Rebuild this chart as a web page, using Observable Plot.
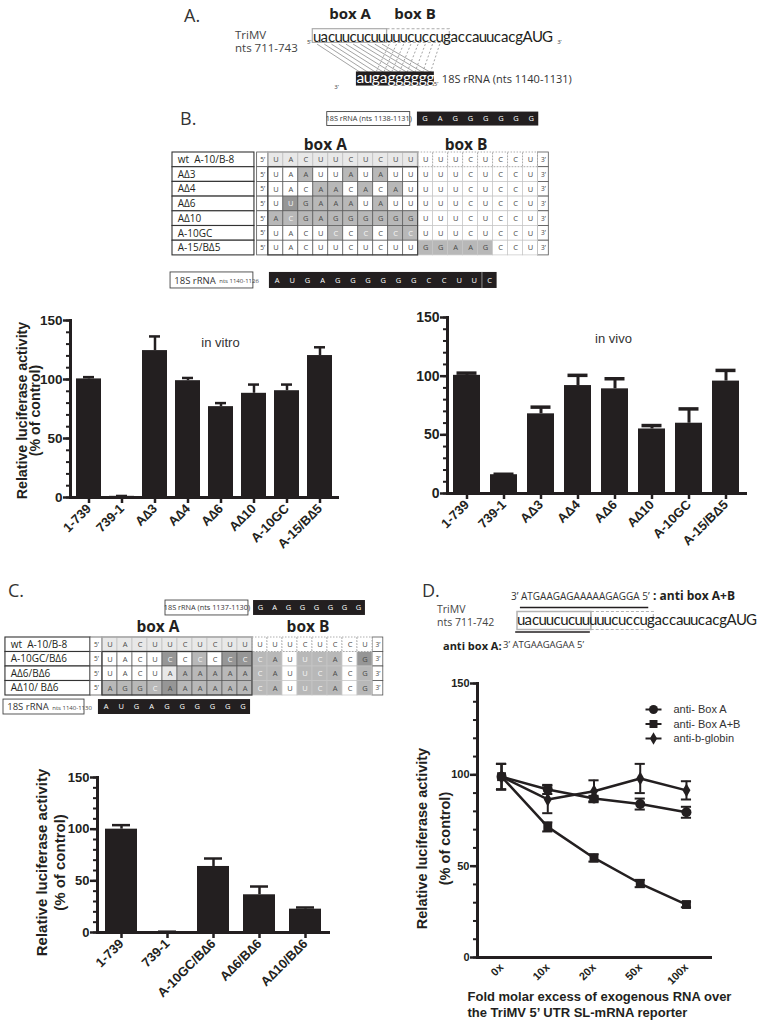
<!DOCTYPE html>
<html><head><meta charset="utf-8">
<script src="https://cdn.jsdelivr.net/npm/d3@7"></script>
<script src="https://cdn.jsdelivr.net/npm/@observablehq/plot@0.6"></script>
<style>
body{margin:0;background:#fff;}
#root{position:relative;width:760px;height:1020px;overflow:hidden;font-family:"Open Sans",sans-serif;color:#231f20;background:#fff;}
.abs{position:absolute;white-space:nowrap;line-height:1;}
svg{overflow:visible;}
</style></head><body><div id="root"></div>
<script>
// ---------------- DATA ----------------
const seqTriMV = "uacuucucuuuuucuccugaccauucacgAUG";
const rRNA_A = "augagggggg";

const vitroCats = ["1-739","739-1","A\u22063","A\u22064","A\u22066","A\u220610","A-10GC","A-15/B\u22065"];
const vitroVals = [100.5, 1, 124.5, 99, 77, 88.3, 90.5, 120.3];
const vitroErr  = [1.5, 0.3, 12, 2.3, 3, 7.4, 5.2, 7];

const vivoCats = ["1-739","739-1","A\u03943","A\u03944","A\u03946","A\u220610","A-10GC","A-15/B\u03945"];
const vivoVals = [100.7, 16, 67.9, 92, 89.2, 55, 59.9, 95.8];
const vivoErr  = [1.9, 0.4, 5.7, 8.7, 8.6, 2.9, 12.2, 9.1];

const cCats = ["1-739","739-1","A-10GC/B\u22066","A\u22066/B\u22066","A\u220610/B\u22066"];
const cVals = [100, 0.6, 63.9, 36.5, 22.6];
const cErr  = [3.9, 0.2, 7.7, 8, 1.6];

const dDoses = ["0x","10x","20x","50x","100x"];
const dSeries = ["anti- Box A","anti- Box A+B","anti-b-globin"];
const dBoxA = [99, 92, 87, 84, 79.5];
const dBoxAErr = [7, 2.5, 1.5, 3, 3];
const dBoxAB = [99, 71.5, 54.5, 40.5, 29];
const dBoxABErr = [7, 2.5, 2, 2, 1.5];
const dGlobin = [99, 86.5, 91, 98, 91.5];
const dGlobinErr = [7, 7.5, 6, 8, 5];

const tableBLabels = ["wt  A-10/B-8","A\u03943","A\u03944","A\u03946","A\u039410","A-10GC","A-15/B\u03945"];
const tableBSeqs = ["UACUUCUCUUUUUCUCCU","UAAUUAUAUUUUUCUCCU","UACAACACAUUUUCUCCU","UUGAAAUAUUUUUCUCCU","ACGAGGGGGGUUUCUCCU","UACUCCCCCCUUUCUCCU","UACUUCUCUUGGAAGCCU"];
const tableBShades = ["111111111100000000","002002020000000000","000220202000000000","032222020000000000","222222222200000000","000020202200000000","000000000022222000"];
const tableBTopRNA = "GAGGGGGG";
const tableBBottomRNA = "AUGAGGGGGGCCUUC";

const tableCLabels = ["wt  A-10/B-8","A-10GC/B\u03946","A\u03946/B\u03946","A\u039410/ B\u03946"];
const tableCSeqs = ["UACUUCUCUUUUUCUCCU","UACUCCCCCCCAUUCACG","UACUAAAAAACAUUCACG","AGGCAAAAAACAUUCACG"];
const tableCShades = ["111111111100000000","000030203322022203","000012222222022202","222232222222022202"];
const tableCTopRNA = "GAGGGGGG";
const tableCBottomRNA = "AUGAGGGGGG";

const antiAB = "3\u2019 ATGAAGAGAAAAAGAGGA 5\u2019";
const antiA = "3\u2019 ATGAAGAGAA 5\u2019";

// ---------------- HELPERS ----------------
const INK = "#231f20";
const root = document.getElementById("root");
function place(el, left, top) {
  el.style.position = "absolute"; el.style.left = left + "px"; el.style.top = top + "px";
  root.appendChild(el);
}
function label(text, x, y, {size = 12, weight = "normal", anchor = "start", family = '"Open Sans", sans-serif', color = INK} = {}) {
  const d = document.createElement("div");
  d.className = "abs"; d.textContent = text;
  d.style.left = x + "px"; d.style.top = y + "px";
  d.style.fontSize = size + "px"; d.style.fontWeight = weight; d.style.fontFamily = family; d.style.color = color;
  d.style.transform = `translate(${anchor === "middle" ? "-50%" : anchor === "end" ? "-100%" : "0"}, -50%)`;
  root.appendChild(d);
}
const K = v => () => v;
function letterSlots(seq) {
  let acc = 0;
  return [...seq].map(ch => {
    const w = ch === ch.toUpperCase() ? 1.38 : 1;
    const o = {ch, x: acc + w / 2};
    acc += w;
    return o;
  });
}
const slotTotal = s => letterSlots(s).reduce((a, d) => Math.max(a, d.x), 0) + 0.69;

// ---------------- PANEL A ----------------
label("A.", 184, 15, {size: 18, color: "#333"});
label("box A", 350, 13, {size: 15, weight: "bold", anchor: "middle"});
label("box B", 415, 13, {size: 15, weight: "bold", anchor: "middle"});
label("TriMV", 235, 35, {size: 11.5, color: "#444"});
label("nts 711-743", 235, 48, {size: 11.5, color: "#444"});

(function panelA() {
  const bx0 = 5.95, bstep = 1.081;
  const top = letterSlots(seqTriMV);
  const bot = [...rRNA_A].map((ch, j) => ({ch, x: bx0 + bstep * (j + 0.5)}));
  const solid = d3.range(10).map(i => ({x1: i + 0.5, x2: bx0 + bstep * (i + 0.5)}));
  const dashed = d3.range(8).map(k => ({x1: 10 + k + 0.5, x2: bx0 + bstep * (k + 2.5)}));
  const p = Plot.plot({
    width: 400, height: 95, margin: 0, axis: null,
    x: {type: "linear", domain: [0, slotTotal(seqTriMV)], range: [133, 372]},
    y: {type: "linear", domain: [0, 1], range: [37, 78.5]},
    style: {overflow: "visible", background: "transparent"},
    marks: [
      Plot.link(solid, {x1: "x1", x2: "x2", y1: K(0.16), y2: K(0.84), stroke: "#8c8c8c", strokeWidth: 0.8}),
      Plot.link(dashed, {x1: "x1", x2: "x2", y1: K(0.16), y2: K(0.84), stroke: "#8c8c8c", strokeWidth: 0.8, strokeDasharray: "2,2"}),
      Plot.rect([0], {x1: K(-0.1), x2: K(10.2), y1: K(-0.2), y2: K(0.13), fill: "none", stroke: "#ababab", strokeWidth: 1.2}),
      Plot.rect([0], {x1: K(10.2), x2: K(18.9), y1: K(-0.2), y2: K(0.13), fill: "none", stroke: "#ababab", strokeWidth: 1.1, strokeDasharray: "3,2"}),
      Plot.text(top, {x: "x", y: K(0), text: "ch", fontSize: 15, fontFamily: "Lato", fill: INK}),
      Plot.text(["5\u2019"], {x: K(-0.6), y: K(0.12), text: d => d, fontSize: 6, fill: "#444"}),
      Plot.text(["3\u2019"], {x: K(34.1), y: K(0.12), text: d => d, fontSize: 6, fill: "#444"}),
      Plot.rect([0], {x1: K(bx0), x2: K(bx0 + bstep * 10), y1: K(0.83), y2: K(1.17), fill: INK}),
      Plot.text(bot, {x: "x", y: K(0.98), text: "ch", fontSize: 15.5, fontFamily: "Lato", fill: "#fff"}),
      Plot.text(["3\u2019"], {x: K(3.2), y: K(1.2), text: d => d, fontSize: 6, fill: "#444"}),
      Plot.text(["5\u2019"], {x: K(17.0), y: K(1.13), text: d => d, fontSize: 6, fill: "#444"}),
      Plot.text(["18S rRNA (nts 1140-1131)"], {x: K(17.8), y: K(1.02), text: d => d, textAnchor: "start", fontSize: 11, fontFamily: '"Open Sans"', fill: "#333"})
    ]
  });
  place(p, 180, 0);
})();

// ---------------- TABLES ----------------
const shadeFill = {"0": "#ffffff", "1": "#e8e8e8", "2": "#b8b8b8", "3": "#969696"};
function seqTable({labels, seqs, shades, topRNA, bottomRNA, L}) {
  const nA = 10, nB = 8;
  const cells = [];
  labels.forEach((lab, r) => [...seqs[r]].forEach((ch, c) => cells.push({r, c, ch, s: shades[r][c]})));
  const rows = labels.map((lab, r) => ({lab, r}));
  const txtFill = d => (d.s >= "2" && (d.ch === "C" || d.ch === "U")) ? "#f6f6f6" : "#4a4a4a";
  const X1 = d => d.c, X2 = d => d.c + 1, Y1 = d => d.r, Y2 = d => d.r + 1;
  const wtA = cells.filter(d => d.r === 0 && d.c < nA), wtB = cells.filter(d => d.r === 0 && d.c >= nA);
  const mA = cells.filter(d => d.r > 0 && d.c < nA), mB = cells.filter(d => d.r > 0 && d.c >= nA);
  const [tb0, tb1] = L.topBlack, [bb0, bb1] = L.botBlack;
  const topL = [...topRNA].map((ch, j) => ({ch, x: tb0 + (tb1 - tb0) * (j + 0.5) / topRNA.length}));
  const botL = [...bottomRNA].map((ch, j) => ({ch, x: bb0 + (bb1 - bb0) * (j + 0.5) / bottomRNA.length}));
  const tyc = (L.topY[0] + L.topY[1]) / 2, byc = (L.botY[0] + L.botY[1]) / 2;
  const marks = [
    Plot.rect(rows, {x1: K(L.labelX[0]), x2: K(L.labelX[1]), y1: d => d.r, y2: d => d.r + 1, fill: "#fff", stroke: "#333", strokeWidth: 1.1}),
    Plot.text(rows, {x: K(L.labelX[0] + 0.35), y: d => d.r + 0.5, text: "lab", textAnchor: "start", fontSize: L.labelSize, fill: INK}),
    Plot.rect(rows, {x1: K(-L.primeW), x2: K(0), y1: d => d.r, y2: d => d.r + 1, fill: "#fff", stroke: "#555", strokeWidth: 0.8}),
    Plot.text(rows, {x: K(-L.primeW / 2), y: d => d.r + 0.5, text: K("5\u2019"), fontSize: 6.5, fill: "#444"}),
    Plot.rect(rows, {x1: K(nA + nB), x2: K(nA + nB + 0.72), y1: d => d.r, y2: d => d.r + 1, fill: "#fff", stroke: "#555", strokeWidth: 0.8}),
    Plot.text(rows, {x: K(nA + nB + 0.36), y: d => d.r + 0.5, text: K("3\u2019"), fontSize: 6.5, fill: "#444"}),
    Plot.rect(mA, {x1: X1, x2: X2, y1: Y1, y2: Y2, fill: d => shadeFill[d.s], stroke: "#5a5a5a", strokeWidth: 0.7}),
    Plot.rect(mB, {x1: X1, x2: X2, y1: Y1, y2: Y2, fill: d => shadeFill[d.s], stroke: "#c6c6c6", strokeWidth: 0.7}),
    Plot.rect(wtA, {x1: X1, x2: X2, y1: Y1, y2: Y2, fill: d => shadeFill[d.s], stroke: "#c2c2c2", strokeWidth: 0.8}),
    Plot.rect(wtB, {x1: X1, x2: X2, y1: Y1, y2: Y2, fill: "#fff", stroke: "#9a9a9a", strokeWidth: 0.8, strokeDasharray: "1.5,1.5"}),
    Plot.rect([0], {x1: K(0), x2: K(nA), y1: K(0), y2: K(1), fill: "none", stroke: "#a8a8a8", strokeWidth: 1.6}),
    Plot.rect([0], {x1: K(0), x2: K(nA), y1: K(1), y2: K(labels.length), fill: "none", stroke: "#3a3a3a", strokeWidth: 1.1}),
    Plot.text(cells, {x: d => d.c + 0.5, y: d => d.r + 0.5, text: "ch", fontSize: 7.5, fill: txtFill}),
    Plot.text(["box A", "box B"], {x: (d, i) => [L.boxAx, L.boxBx][i], y: K(L.boxY), text: d => d, fontSize: 15.5, fontWeight: "bold", fill: INK}),
    Plot.rect([0], {x1: K(L.topOutline[0]), x2: K(L.topOutline[1]), y1: K(L.topY[0]), y2: K(L.topY[1]), fill: "#fff", stroke: "#444", strokeWidth: 0.9}),
    Plot.text([L.topText], {x: K((L.topOutline[0] + L.topOutline[1]) / 2), y: K(tyc), text: d => d, fontSize: 7.3, fill: "#333"}),
    Plot.rect([0], {x1: K(tb0), x2: K(tb1), y1: K(L.topY[0]), y2: K(L.topY[1]), fill: INK}),
    Plot.text(topL, {x: "x", y: K(tyc), text: "ch", fontSize: 7.5, fill: "#fff"}),
    Plot.rect([0], {x1: K(L.botOutline[0]), x2: K(L.botOutline[1]), y1: K(L.botY[0]), y2: K(L.botY[1]), fill: "#fff", stroke: "#444", strokeWidth: 0.9}),
    Plot.text([L.botText1], {x: K(L.botOutline[0] + 0.25), y: K(byc), text: d => d, textAnchor: "start", fontSize: 9.5, fill: "#333"}),
    Plot.text([L.botText2], {x: K(L.botOutline[0] + 3.25), y: K(byc + 0.05), text: d => d, textAnchor: "start", fontSize: 6, fill: "#444"}),
    Plot.rect([0], {x1: K(bb0), x2: K(bb1), y1: K(L.botY[0]), y2: K(L.botY[1]), fill: INK}),
    Plot.text(botL, {x: "x", y: K(byc), text: "ch", fontSize: 7.5, fill: "#fff"})
  ];
  if (L.botDivider != null) {
    const xd = bb0 + (bb1 - bb0) * L.botDivider / bottomRNA.length;
    marks.push(Plot.ruleX([xd], {y1: K(L.botY[0]), y2: K(L.botY[1]), stroke: "#aaa", strokeWidth: 0.8}));
  }
  return Plot.plot({
    width: L.width, height: L.height, margin: 0, axis: null,
    x: {type: "linear", domain: L.xDomain, range: L.xRange},
    y: {type: "linear", domain: L.yDomain, range: L.yRange},
    color: {type: "identity"},
    style: {fontFamily: '"Open Sans", sans-serif', overflow: "visible", background: "transparent"},
    marks
  });
}

label("B.", 180, 118, {size: 18, color: "#333"});
place(seqTable({
  labels: tableBLabels, seqs: tableBSeqs, shades: tableBShades, topRNA: tableBTopRNA, bottomRNA: tableBBottomRNA,
  L: {width: 400, height: 200, xDomain: [-6.4, 18.7], xRange: [12, 388], yDomain: [-3, 9.5], yRange: [12.9, 196.65],
      labelX: [-6.4, -0.93], primeW: 0.75, labelSize: 10,
      topOutline: [3.93, 9.47], topBlack: [9.95, 18.05], topY: [-2.75, -1.8], topText: "18S rRNA (nts 1138-1131)",
      boxAx: 3.8, boxBx: 13.2, boxY: -0.5,
      botOutline: [-6.53, -1.0], botBlack: [0.07, 15.27], botY: [8.16, 9.25], botText1: "18S rRNA", botText2: "nts 1140-1126", botDivider: 14}
}), 160, 95);

label("C.", 8, 590, {size: 18, color: "#333"});
place(seqTable({
  labels: tableCLabels, seqs: tableCSeqs, shades: tableCShades, topRNA: tableCTopRNA, bottomRNA: tableCBottomRNA,
  L: {width: 400, height: 140, xDomain: [-6.5, 18.9], xRange: [4.5, 385.5], yDomain: [-3.5, 5.6], yRange: [1.25, 133.2],
      labelX: [-6.47, -0.8], primeW: 0.8, labelSize: 10,
      topOutline: [4.2, 9.73], topBlack: [10.07, 17.53], topY: [-2.55, -1.52], topText: "18S rRNA (nts 1137-1130)",
      boxAx: 3.7, boxBx: 13.7, boxY: -0.69,
      botOutline: [-6.6, -1.2], botBlack: [-0.27, 9.87], botY: [4.28, 5.31], botText1: "18S rRNA", botText2: "nts 1140-1130", botDivider: null}
}), 0, 585);

// ---------------- BAR CHARTS ----------------
function barChart(o) {
  const data = o.cats.map((c, i) => ({c, v: o.vals[i], e: o.errs[i]}));
  const marks = [
    Plot.barY(data, {x: "c", y: "v", fill: INK}),
    Plot.ruleX(data, {x: "c", y1: "v", y2: d => d.v + d.e, stroke: INK, strokeWidth: o.errW}),
    Plot.tickY(data, {x: "c", y: d => d.v + d.e, stroke: INK, strokeWidth: o.capW, inset: o.capInset}),
    Plot.axisY(d3.range(0, 151, 10), {tickSize: 4, tickFormat: () => "", strokeWidth: 2}),
    Plot.axisY([0, 50, 100, 150], {tickSize: 7, tickPadding: 1, fontSize: o.tickFont, fontWeight: "bold", strokeWidth: 2.5}),
    Plot.axisX({tickSize: 6, tickRotate: -45, tickPadding: 3, fontSize: o.xFont, fontWeight: "bold", strokeWidth: 2.5}),
    Plot.frame({anchor: "left", strokeWidth: 3, stroke: INK}),
    Plot.frame({anchor: "bottom", strokeWidth: 3, stroke: INK})
  ];
  if (o.yTitle) marks.push(Plot.text([o.yTitle], {frameAnchor: "left", textAnchor: "middle", lineAnchor: "middle", rotate: -90, dx: o.titleDx, dy: o.titleDy, text: d => d, fontSize: o.titleSize, fontWeight: "bold", lineHeight: o.titleLH, fill: INK}));
  if (o.note) marks.push(Plot.text([o.note], {frameAnchor: "top", dx: o.noteDx, dy: o.noteDy, text: d => d, fontSize: 13, fontWeight: "normal", fill: "#333"}));
  return Plot.plot({
    width: o.width, height: o.height, marginLeft: o.ml, marginTop: o.mt, marginRight: o.mr, marginBottom: o.mb,
    style: {fontFamily: '"Liberation Sans", Arial, sans-serif', color: INK, background: "transparent", overflow: "visible"},
    x: {domain: o.cats, paddingInner: o.pi, paddingOuter: o.po, label: null},
    y: {domain: [0, 150], label: null},
    marks
  });
}
const yTitleText = "Relative luciferase activity\n(% of control)";
place(barChart({cats: vitroCats, vals: vitroVals, errs: vitroErr, width: 345, height: 262, ml: 70, mt: 20, mr: 8, mb: 65,
  pi: 0.25, po: 0.135, yTitle: yTitleText, titleDx: -41, titleDy: 1.5, titleSize: 14.2, titleLH: 0.88,
  note: "in vitro", noteDx: 16.5, noteDy: 17, tickFont: 13.5, xFont: 13, capInset: 7, errW: 2.5, capW: 2.5}), 0, 300);
place(barChart({cats: vivoCats, vals: vivoVals, errs: vivoErr, width: 380, height: 262, ml: 67, mt: 17, mr: 15, mb: 69,
  pi: 0.274, po: 0.142, yTitle: null,
  note: "in vivo", noteDx: 17, noteDy: 16, tickFont: 14, xFont: 13, capInset: 3.5, errW: 3, capW: 3.5}), 380, 300);
place(barChart({cats: cCats, vals: cVals, errs: cErr, width: 345, height: 260, ml: 97, mt: 17, mr: 17, mb: 88,
  pi: 0.315, po: 0.13, yTitle: yTitleText, titleDx: -47, titleDy: 7.5, titleSize: 15, titleLH: 1.2,
  note: null, tickFont: 13, xFont: 13, capInset: 7, errW: 2.5, capW: 2.5}), 0, 760);

// ---------------- PANEL D ----------------
label("D.", 422, 590, {size: 18, color: "#333"});
label(antiAB, 511, 596, {size: 10, color: "#333"});
label(": anti box A+B", 653, 596, {size: 12, weight: "bold"});
label("TriMV", 437, 609, {size: 10.5, color: "#444"});
label("nts 711-742", 437, 622, {size: 10.5, color: "#444"});
label("anti box A:", 443, 645, {size: 11, weight: "bold"});
label(antiA, 503, 645, {size: 9.5, color: "#333"});

(function dSeq() {
  const top = letterSlots(seqTriMV);
  const p = Plot.plot({
    width: 370, height: 50, margin: 0, axis: null,
    x: {type: "linear", domain: [0, slotTotal(seqTriMV)], range: [127, 366]},
    y: {type: "linear", domain: [0, 1], range: [25, 35]},
    style: {overflow: "visible", background: "transparent"},
    marks: [
      Plot.rect([0], {x1: K(0), x2: K(10.25), y1: K(-0.85), y2: K(0.95), fill: "none", stroke: "#b3b3b3", strokeWidth: 1.5}),
      Plot.rect([0], {x1: K(10.25), x2: K(18.9), y1: K(-0.85), y2: K(0.95), fill: "none", stroke: "#b3b3b3", strokeWidth: 1.2, strokeDasharray: "3,2"}),
      Plot.text(top, {x: "x", y: K(0), text: "ch", fontSize: 15, fontFamily: "Lato", fill: INK}),
      Plot.ruleY([1.15], {x1: K(-0.25), x2: K(10.1), stroke: INK, strokeWidth: 1.5}),
      Plot.ruleY([-1.3], {x1: K(0.4), x2: K(18.2), stroke: INK, strokeWidth: 1.5})
    ]
  });
  place(p, 390, 595);
})();

(function dChart() {
  const data = [];
  [[dBoxA, dBoxAErr], [dBoxAB, dBoxABErr], [dGlobin, dGlobinErr]].forEach(([vals, errs], si) =>
    vals.forEach((v, i) => data.push({s: dSeries[si], i, v, e: errs[i]})));
  const p = Plot.plot({
    width: 370, height: 360, marginLeft: 87, marginTop: 23, marginRight: 50, marginBottom: 63,
    style: {fontFamily: '"Liberation Sans", Arial, sans-serif', color: INK, background: "transparent", overflow: "visible"},
    x: {type: "linear", domain: [-0.52, 4.52], label: null},
    y: {domain: [0, 150], label: null},
    symbol: {domain: dSeries, range: ["circle", "square", "diamond"]},
    marks: [
      Plot.ruleX(data, {x: "i", y1: d => d.v - d.e, y2: d => d.v + d.e, stroke: INK, strokeWidth: 2}),
      Plot.ruleY(data, {y: d => d.v + d.e, x1: d => d.i - 0.11, x2: d => d.i + 0.11, stroke: INK, strokeWidth: 2}),
      Plot.ruleY(data, {y: d => d.v - d.e, x1: d => d.i - 0.11, x2: d => d.i + 0.11, stroke: INK, strokeWidth: 2}),
      Plot.line(data, {x: "i", y: "v", z: "s", stroke: INK, strokeWidth: 2.5}),
      Plot.dot(data.filter(d => d.s !== "anti-b-globin"), {x: "i", y: "v", symbol: "s", fill: INK, r: 5}),
      Plot.dot(data.filter(d => d.s === "anti-b-globin"), {x: "i", y: "v", symbol: "s", fill: INK, r: 4.2}),
      Plot.axisY(d3.range(0, 151, 10), {tickSize: 4, tickFormat: () => "", strokeWidth: 2}),
      Plot.axisY([0, 50, 100, 150], {tickSize: 7, tickPadding: 1, fontSize: 11, fontWeight: "bold", strokeWidth: 2.5}),
      Plot.axisX(d3.range(dDoses.length), {tickFormat: i => dDoses[i], tickSize: 0, tickPadding: 8, tickRotate: -45, fontSize: 11, fontWeight: "bold"}),
      Plot.frame({anchor: "left", strokeWidth: 3, stroke: INK}),
      Plot.frame({anchor: "bottom", strokeWidth: 3, stroke: INK}),
      Plot.text([yTitleText], {frameAnchor: "left", textAnchor: "middle", lineAnchor: "middle", rotate: -90, dx: -46, dy: 18, text: d => d, fontSize: 14.5, fontWeight: "bold", lineHeight: 1.55, fill: INK}),
      Plot.text(["Fold molar excess of exogenous RNA over\nthe TriMV 5\u2019 UTR SL-mRNA reporter"], {frameAnchor: "bottom-left", textAnchor: "start", lineAnchor: "top", dx: -10, dy: 31, text: d => d, fontSize: 13, fontWeight: "bold", lineHeight: 1.3, fill: INK})
    ]
  });
  place(p, 390, 660);

  const leg = dSeries.map((s, i) => ({s, i}));
  const lp = Plot.plot({
    width: 120, height: 45, margin: 0, axis: null,
    x: {type: "linear", domain: [0, 1], range: [5, 21]},
    y: {type: "linear", domain: [0, 2], range: [9, 38]},
    symbol: {domain: dSeries, range: ["circle", "square", "diamond"]},
    style: {fontFamily: '"Liberation Sans", Arial, sans-serif', overflow: "visible", background: "transparent"},
    marks: [
      Plot.link(leg, {x1: K(0), x2: K(1), y1: "i", y2: "i", stroke: INK, strokeWidth: 2}),
      Plot.dot(leg.filter(d => d.i < 2), {x: K(0.5), y: "i", symbol: "s", fill: INK, r: 4.5}),
      Plot.dot(leg.filter(d => d.i === 2), {x: K(0.5), y: "i", symbol: "s", fill: INK, r: 3.8}),
      Plot.text(leg, {x: K(1.75), y: "i", text: "s", textAnchor: "start", fontSize: 11, fill: "#333"})
    ]
  });
  place(lp, 640, 700);
})();
</script></body></html>
